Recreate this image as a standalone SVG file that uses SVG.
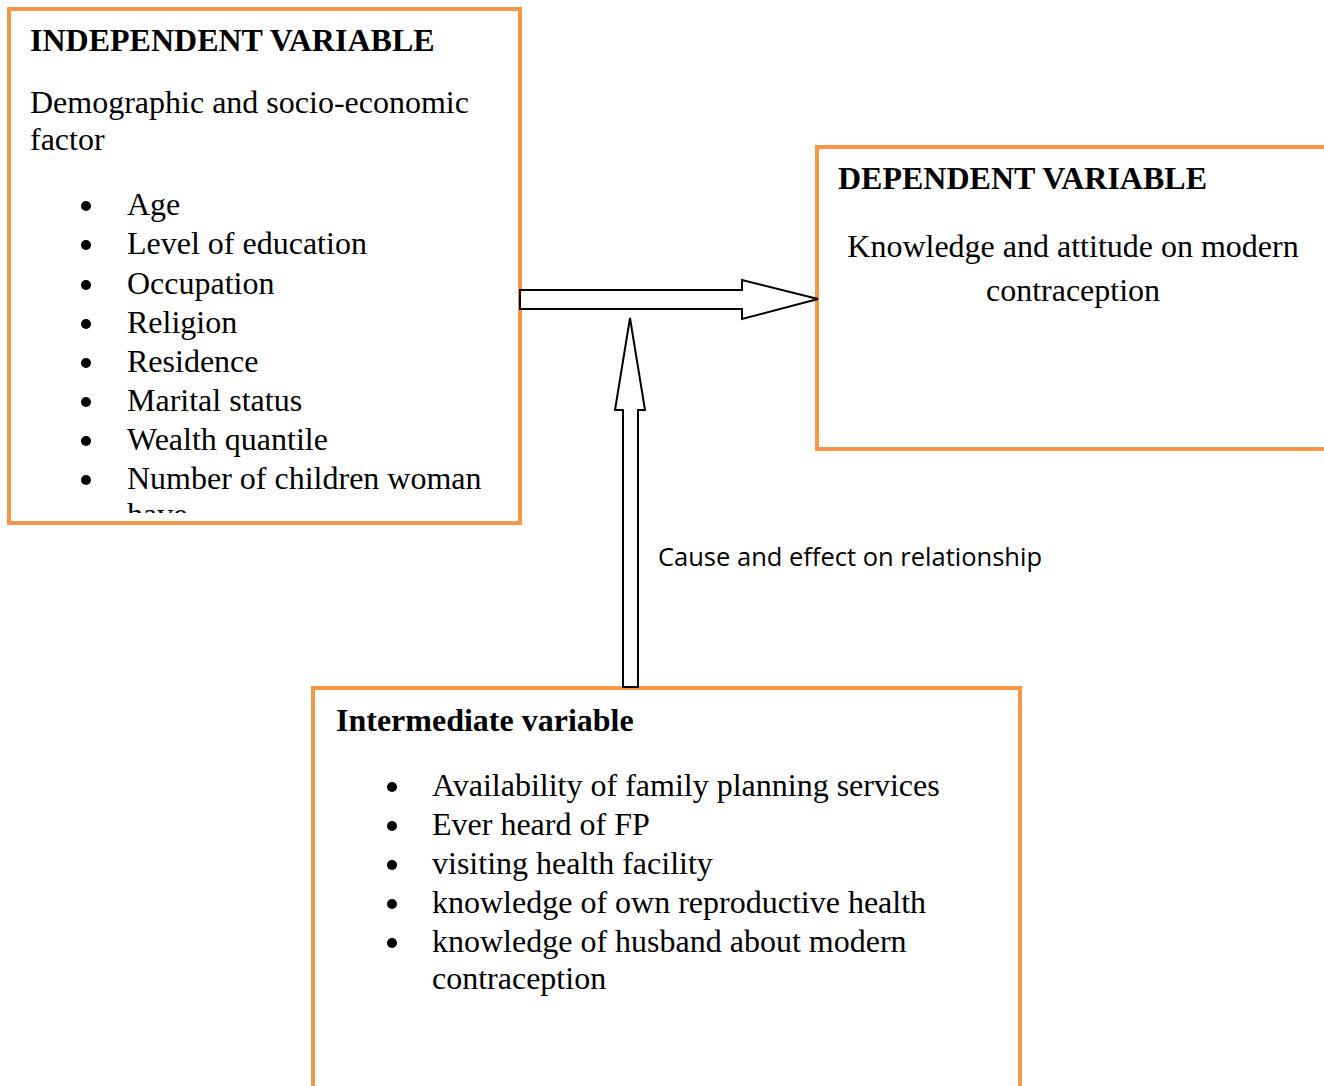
<svg xmlns="http://www.w3.org/2000/svg" width="1324" height="1086" viewBox="0 0 1324 1086">
<style>
.box{fill:#fff;stroke:#F79646;stroke-width:4}
.t{font-family:"Liberation Serif","Times New Roman",serif;font-size:32px;fill:#000}
.b{font-weight:bold}
.dot{fill:#000}
.lbl{font-family:"Open Sans","Liberation Sans",sans-serif;font-size:25.5px;fill:#000}
.arr{fill:#fff;stroke:#000;stroke-width:2;stroke-linejoin:miter}
</style>
<defs>
<clipPath id="clipL"><rect x="10" y="10" width="509" height="503"/></clipPath>
</defs>
<rect width="1324" height="1086" fill="#fff"/>
<g id="independent">
<rect class="box" x="9" y="9" width="511" height="514"/>
<g clip-path="url(#clipL)">
<text class="t b" x="30" y="51">INDEPENDENT VARIABLE</text>
<text class="t" x="30" y="113">Demographic and socio-economic</text>
<text class="t" x="30" y="150">factor</text>
<g class="dot">
<circle cx="86" cy="206" r="5"/><circle cx="86" cy="245" r="5"/><circle cx="86" cy="285" r="5"/><circle cx="86" cy="324" r="5"/>
<circle cx="86" cy="363" r="5"/><circle cx="86" cy="402" r="5"/><circle cx="86" cy="441" r="5"/><circle cx="86" cy="480" r="5"/>
</g>
<g class="t">
<text x="127" y="215">Age</text>
<text x="127" y="254">Level of education</text>
<text x="127" y="294">Occupation</text>
<text x="127" y="333">Religion</text>
<text x="127" y="372">Residence</text>
<text x="127" y="411">Marital status</text>
<text x="127" y="450">Wealth quantile</text>
<text x="127" y="489">Number of children woman</text>
<text x="127" y="525">have</text>
</g>
</g>
</g>
<g id="dependent">
<rect class="box" x="817" y="147" width="520" height="302"/>
<text class="t b" x="838" y="189">DEPENDENT VARIABLE</text>
<text class="t" x="1073" y="257" text-anchor="middle">Knowledge and attitude on modern</text>
<text class="t" x="1073" y="301" text-anchor="middle">contraception</text>
</g>
<g id="intermediate">
<rect class="box" x="313" y="688" width="707" height="420"/>
<text class="t b" x="336" y="731">Intermediate variable</text>
<g class="dot">
<circle cx="392" cy="787" r="5"/><circle cx="392" cy="826" r="5"/><circle cx="392" cy="865" r="5"/><circle cx="392" cy="904" r="5"/><circle cx="392" cy="943" r="5"/>
</g>
<g class="t">
<text x="432" y="796">Availability of family planning services</text>
<text x="432" y="835">Ever heard of FP</text>
<text x="432" y="874">visiting health facility</text>
<text x="432" y="913">knowledge of own reproductive health</text>
<text x="432" y="952">knowledge of husband about modern</text>
<text x="432" y="989">contraception</text>
</g>
</g>
<g id="connectors">
<polygon class="arr" points="520,290 742,290 742,280 818,299 742,319 742,309 520,309"/>
<polygon class="arr" points="623,687 623,410 615,410 630,318 645,410 638,410 638,687"/>
<text class="lbl" x="658" y="566">Cause and effect on relationship</text>
</g>
</svg>
